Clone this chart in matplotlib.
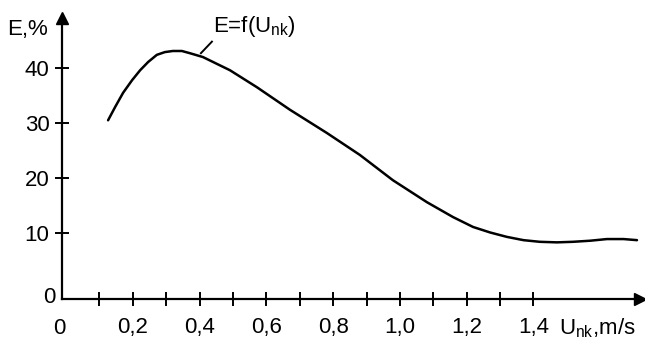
import matplotlib
matplotlib.use('Agg')
import matplotlib.pyplot as plt

plt.rcParams['font.family'] = ['Liberation Sans', 'DejaVu Sans']
plt.rcParams['mathtext.fontset'] = 'custom'
plt.rcParams['mathtext.rm'] = 'Liberation Sans'
plt.rcParams['mathtext.it'] = 'Liberation Sans'

# curve E = f(Unk)
u_nk = [0.126, 0.147, 0.171, 0.198, 0.222, 0.246, 0.272, 0.296, 0.320, 0.347,
        0.371, 0.410, 0.491, 0.572, 0.671, 0.781, 0.880, 0.979, 1.081, 1.159,
        1.219, 1.270, 1.320, 1.370, 1.419, 1.470, 1.518, 1.570, 1.620, 1.670, 1.710]
e_pct = [30.5, 32.9, 35.5, 37.8, 39.6, 41.1, 42.4, 42.9, 43.1, 43.1,
         42.7, 42.0, 39.6, 36.5, 32.4, 28.2, 24.2, 19.6, 15.6, 12.9,
         11.1, 10.1, 9.3, 8.7, 8.4, 8.3, 8.4, 8.6, 8.9, 8.9, 8.7]

x_ticks = [0.1, 0.2, 0.3, 0.4, 0.5, 0.6, 0.7, 0.8, 0.9, 1.0, 1.1, 1.2, 1.3, 1.4]
x_labels = ['', '0,2', '', '0,4', '', '0,6', '', '0,8', '', '1,0', '', '1,2', '', '1,4']
y_ticks = [10, 20, 30, 40]

fs = 16
fig = plt.figure(figsize=(6.45, 3.4), dpi=100)
ax = fig.add_axes([62 / 645, 1 - 299 / 340, (640 - 62) / 645, (299 - 18) / 340])

ax.plot(u_nk, e_pct, color='black', lw=1.8, solid_capstyle='round', solid_joinstyle='round')

ax.set_xlim(-0.012, 1.719)
ax.set_ylim(-2, 49.1)
for s in ['top', 'right']:
    ax.spines[s].set_visible(False)
for s in ['left', 'bottom']:
    ax.spines[s].set_linewidth(1.6)

ax.set_xticks(x_ticks)
ax.set_xticklabels(x_labels)
ax.set_yticks(y_ticks)
ax.tick_params(axis='x', direction='inout', length=10, width=1.4, pad=8, labelsize=fs)
ax.tick_params(axis='y', direction='inout', length=10, width=1.4, pad=4, labelsize=fs)

# arrow heads on the axes
ax.plot(1, 0, marker='>', markersize=9, color='black', transform=ax.transAxes, clip_on=False)
ax.plot(0, 1, marker='^', markersize=9, color='black', transform=ax.transAxes, clip_on=False)

# axis names and origin
ax.text(-0.095, 0.96, 'E,%', transform=ax.transAxes, ha='left', va='center', fontsize=fs)
ax.text(-0.012, 0.005, '0', transform=ax.transAxes, ha='right', va='center', fontsize=fs)
ax.text(-0.004, -0.105, '0', transform=ax.transAxes, ha='center', va='center', fontsize=fs)
ax.text(0.86, -0.105, 'U$_{\\rm nk}$,m/s', transform=ax.transAxes, ha='left', va='center', fontsize=fs)

# curve label with leader line
ax.plot([0.404, 0.437], [42.7, 44.8], color='black', lw=1.4)
ax.text(0.44, 47.6, 'E=f(U$_{\\rm nk}$)', ha='left', va='center', fontsize=fs)

fig.savefig('out.png', dpi=100)
